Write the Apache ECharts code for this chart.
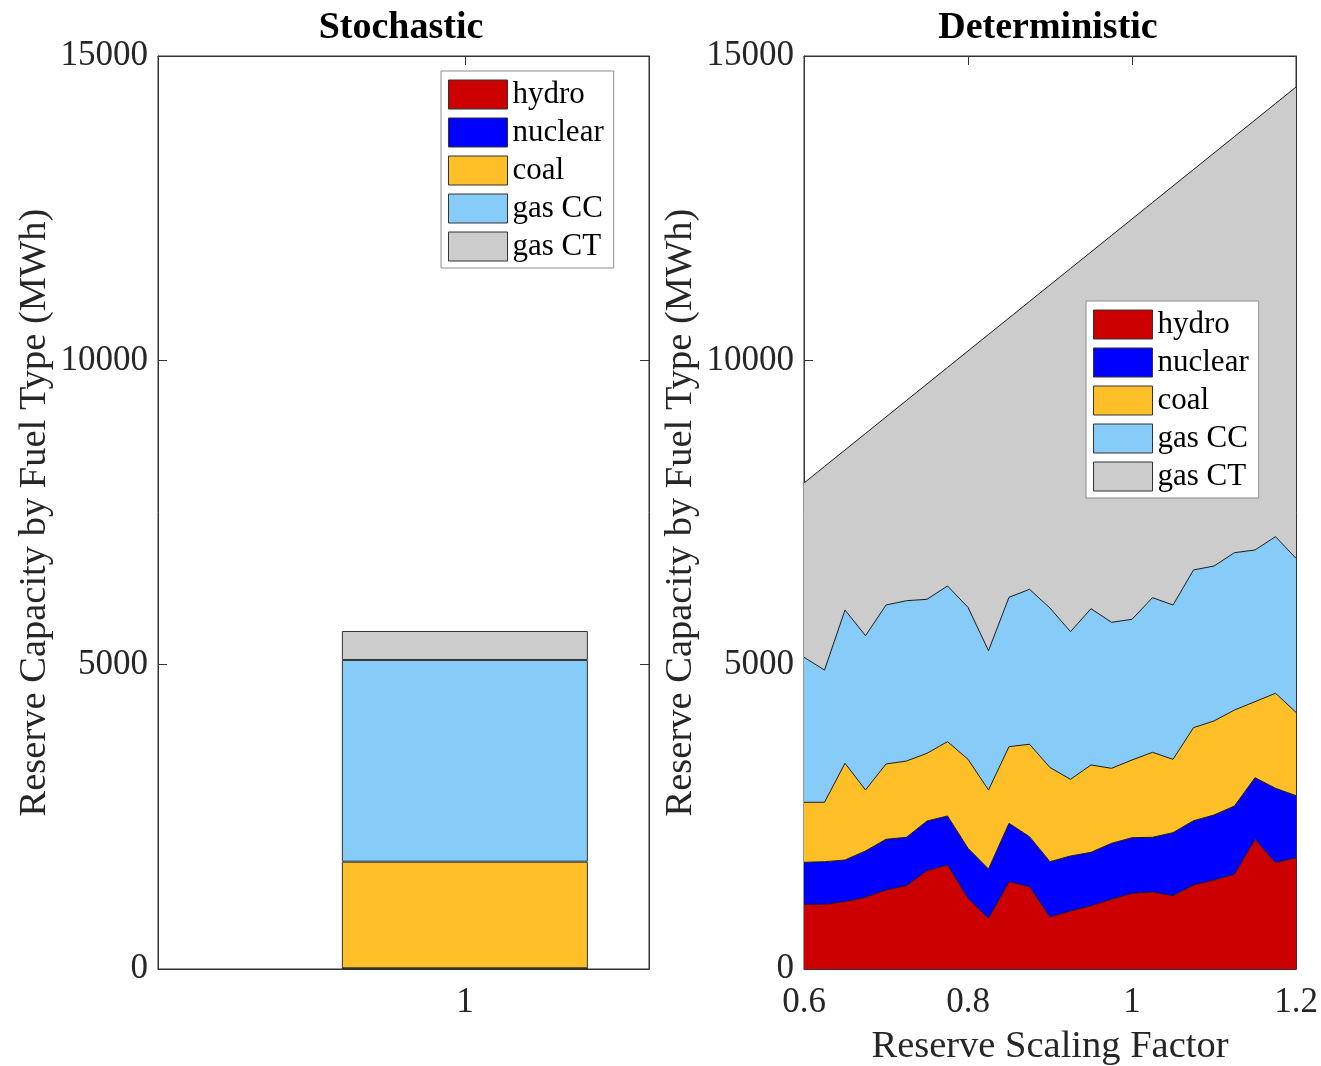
<!DOCTYPE html>
<html>
<head>
<meta charset="utf-8">
<script src="https://cdn.jsdelivr.net/npm/echarts@6/dist/echarts.min.js"></script>
<style>
html,body{margin:0;padding:0;background:#fff;}
#chart{width:1321px;height:1066px;}
</style>
</head>
<body>
<div id="chart"></div>
<script>
// ---- data ----
const fuelTypes = ['hydro', 'nuclear', 'coal', 'gas CC', 'gas CT'];
const fuelColors = ['#CC0000', '#0000FF', '#FFBF28', '#87CBF9', '#CCCCCC'];

// Stochastic panel (single bar at x = 1)
const stochX = 1;
const stochHydro = 12;
const stochNuclear = 0;
const stochCoal = 1751;
const stochGasCC = 3314;
const stochGasCT = 476;

// Deterministic panel
const scaleFactor = [0.6, 0.625, 0.65, 0.675, 0.7, 0.725, 0.75, 0.775, 0.8, 0.825, 0.85, 0.875,
  0.9, 0.925, 0.95, 0.975, 1.0, 1.025, 1.05, 1.075, 1.1, 1.125, 1.15, 1.175, 1.2];
const hydroDet = [1063, 1063, 1106, 1178, 1298, 1369, 1615, 1709, 1162, 833, 1434, 1352,
  855, 953, 1040, 1145, 1244, 1265, 1205, 1380, 1462, 1556, 2131, 1747, 1829];
const nuclearDet = [690, 700, 685, 761, 833, 795, 817, 805, 821, 810, 960, 822,
  908, 904, 877, 920, 913, 899, 1035, 1056, 1068, 1122, 1012, 1222, 1019];
const coalDet = [986, 976, 1589, 1002, 1237, 1253, 1112, 1221, 1462, 1298, 1259, 1518,
  1547, 1259, 1435, 1232, 1277, 1396, 1205, 1529, 1545, 1577, 1249, 1561, 1369];
const gasCCDet = [2382, 2173, 2518, 2535, 2612, 2634, 2530, 2558, 2497, 2289, 2454, 2546,
  2620, 2426, 2568, 2399, 2311, 2541, 2535, 2591, 2546, 2585, 2492, 2573, 2531];
const gasCTDet = [2864, 3344, 2629, 3322, 3090, 3290, 3538, 3590, 4212, 5195, 4589, 4730,
  5309, 5968, 5860, 6355, 6577, 6492, 6884, 6579, 6785, 6837, 7064, 7116, 7742];

const detTickLabels = ['0.6', '0.8', '1', '1.2'];

// ---- chart ----
const FONT = "'Liberation Serif', 'Times New Roman', serif";
const AX = '#333333';
const stochVals = [stochHydro, stochNuclear, stochCoal, stochGasCC, stochGasCT];
const detVals = [hydroDet, nuclearDet, coalDet, gasCCDet, gasCTDet];
const detCats = scaleFactor.map(v => String(v));

function legendData() {
  return fuelTypes.map((n, i) => ({
    name: n,
    itemStyle: { color: fuelColors[i], borderColor: '#333', borderWidth: 1 }
  }));
}
function legendCfg(left, top) {
  return {
    orient: 'vertical', left: left, top: top,
    icon: 'rect', itemWidth: 59, itemHeight: 29, itemGap: 7,
    padding: [8, 10, 6, 7],
    backgroundColor: '#fff', borderColor: '#8c8c8c', borderWidth: 1, borderRadius: 0,
    selectedMode: false,
    textStyle: { fontFamily: FONT, fontSize: 31, color: '#000' },
    data: legendData()
  };
}
function yAx(gridIndex, pos, showLabel, showName) {
  return {
    type: 'value', gridIndex: gridIndex, position: pos,
    min: 0, max: 15000, interval: 5000,
    axisLine: { show: true, onZero: false, lineStyle: { color: AX, width: 1 } },
    axisTick: { show: true, inside: true, length: 9, lineStyle: { color: AX } },
    splitLine: { show: false },
    axisLabel: { show: showLabel, fontFamily: FONT, fontSize: 35, color: '#262626', margin: 10,
      formatter: v => String(v) },
    name: showName ? 'Reserve Capacity by Fuel Type (MWh)' : '',
    nameLocation: 'middle', nameGap: 104, nameRotate: 90,
    nameTextStyle: { fontFamily: FONT, fontSize: 38.5, color: '#262626' }
  };
}

const series = [];
fuelTypes.forEach((n, i) => {
  series.push({
    name: n, type: 'bar', xAxisIndex: 0, yAxisIndex: 0, stack: 'stoch',
    barWidth: 246,
    encode: { x: 1, y: 0 },
    itemStyle: { color: fuelColors[i], borderColor: '#333', borderWidth: 1 },
    data: [[stochVals[i], stochX]]
  });
});
fuelTypes.forEach((n, i) => {
  series.push({
    name: n, type: 'line', xAxisIndex: 2, yAxisIndex: 2, stack: 'det',
    symbol: 'none', showSymbol: false,
    lineStyle: { color: '#1a1a1a', width: 1 },
    itemStyle: { color: fuelColors[i] },
    areaStyle: { color: fuelColors[i], opacity: 1 },
    data: detVals[i]
  });
});

const option = {
  animation: false,
  backgroundColor: '#fff',
  title: [
    { text: 'Stochastic', left: 396, top: 4, textAlign: 'center',
      textStyle: { fontFamily: FONT, fontSize: 38, fontWeight: 'bold', color: '#000' } },
    { text: 'Deterministic', left: 1043, top: 4, textAlign: 'center',
      textStyle: { fontFamily: FONT, fontSize: 38, fontWeight: 'bold', color: '#000' } }
  ],
  legend: [legendCfg(441, 71), legendCfg(1086, 301)],
  grid: [
    { left: 158, right: 672, top: 56, bottom: 97, show: true, borderColor: AX, borderWidth: 1,
      outerBoundsMode: 'none', containLabel: false },
    { left: 804, right: 25, top: 56, bottom: 97, show: true, borderColor: AX, borderWidth: 1,
      outerBoundsMode: 'none', containLabel: false }
  ],
  xAxis: [
    { type: 'value', gridIndex: 0, position: 'bottom', min: 0, max: 1.6, interval: 1,
      axisLine: { show: true, onZero: false, lineStyle: { color: AX } },
      axisTick: { show: false },
      splitLine: { show: false },
      axisLabel: { fontFamily: FONT, fontSize: 35, color: '#262626', margin: 16,
        formatter: v => (v === 1 ? '1' : '') } },
    { type: 'value', gridIndex: 0, position: 'top', min: 0, max: 1.6, interval: 1,
      axisLine: { show: true, onZero: false, lineStyle: { color: AX } },
      axisTick: { show: true, inside: true, length: 9, lineStyle: { color: AX } },
      splitLine: { show: false }, axisLabel: { show: false } },
    { type: 'category', gridIndex: 1, position: 'bottom', data: detCats, boundaryGap: false,
      axisLine: { show: true, onZero: false, lineStyle: { color: AX } },
      axisTick: { show: false },
      splitLine: { show: false },
      axisLabel: { fontFamily: FONT, fontSize: 35, color: '#262626', margin: 16,
        interval: (idx, val) => detTickLabels.indexOf(val) >= 0,
        formatter: v => (detTickLabels.indexOf(v) >= 0 ? v : '') },
      name: 'Reserve Scaling Factor', nameLocation: 'middle', nameGap: 58,
      nameTextStyle: { fontFamily: FONT, fontSize: 38.5, color: '#262626' } },
    { type: 'category', gridIndex: 1, position: 'top', data: detCats, boundaryGap: false,
      axisLine: { show: true, onZero: false, lineStyle: { color: AX } },
      axisTick: { show: true, inside: true, length: 9, lineStyle: { color: AX },
        interval: (idx, val) => detTickLabels.indexOf(val) >= 0 },
      splitLine: { show: false }, axisLabel: { show: false } }
  ],
  yAxis: [
    yAx(0, 'left', true, true),
    yAx(0, 'right', false, false),
    yAx(1, 'left', true, true),
    yAx(1, 'right', false, false)
  ],
  series: series
};

const chart = echarts.init(document.getElementById('chart'), null, { renderer: 'canvas' });
chart.setOption(option);
</script>
</body>
</html>
